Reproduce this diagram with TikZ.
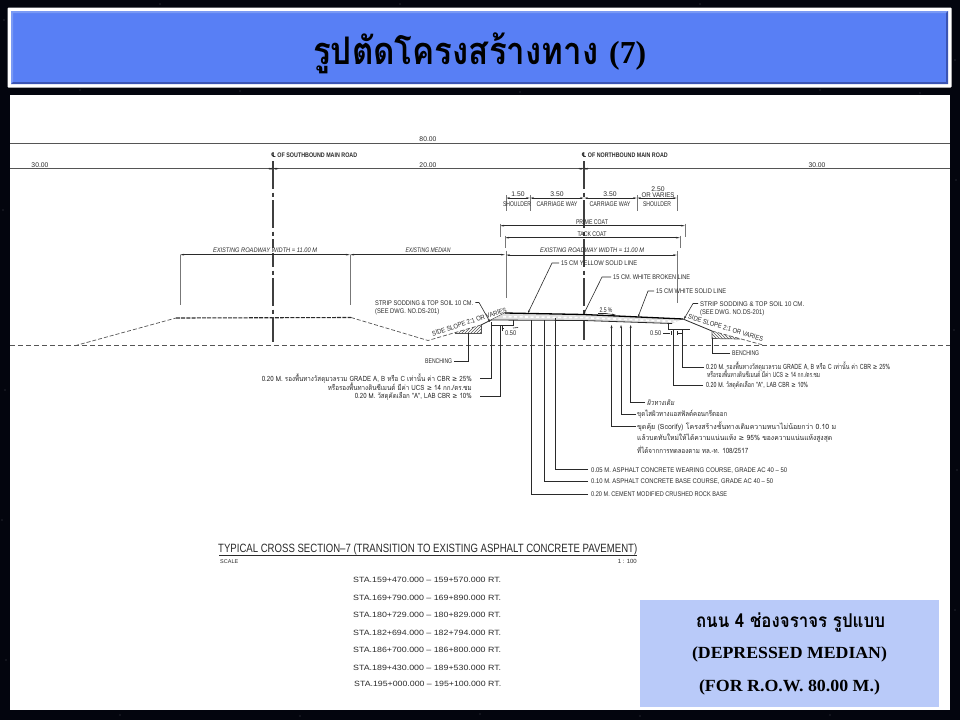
\documentclass[tikz,border=0pt]{standalone}
\usepackage{graphicx}
\usepackage{fontspec}
\setmainfont{Liberation Serif}
\setsansfont{Liberation Sans}
\newfontfamily\thaicad[Script=Thai]{Loma}
\newfontfamily\thaibold[Script=Thai]{Loma}
\newfontfamily\symb{DejaVu Sans}
\usetikzlibrary{arrows.meta,patterns}
\newcommand{\fitw}[2]{\resizebox{#1pt}{\height}{#2}}
\newcommand{\geqmark}{{\symb ≥}}
\definecolor{night}{HTML}{03050E}
\definecolor{titleblue}{HTML}{587FF5}
\definecolor{bevelhi}{HTML}{7A9AF4}
\definecolor{bevello}{HTML}{3A54B4}
\definecolor{panelblue}{HTML}{B9CAF9}
\definecolor{ink}{HTML}{2A2A2A}
\definecolor{wire}{HTML}{555555}
\tikzset{
  x=1pt,y=-1pt,
  cad/.style={inner sep=0pt,anchor=base west,text=ink,font=\sffamily\fontsize{6.8}{7}\selectfont},
  cadc/.style={cad,anchor=base},
  cade/.style={cad,anchor=base east},
  thc/.style={inner sep=0pt,anchor=base west,text=ink,font=\thaicad\fontsize{7.2}{8}\selectfont},
  the/.style={thc,anchor=base east},
  sta/.style={cad,font=\sffamily\fontsize{7.6}{8}\selectfont},
  wirel/.style={draw=wire,line width=0.7pt},
  leader/.style={draw=ink,line width=0.6pt},
  dimline/.style={draw=ink,line width=0.6pt,{Stealth[length=4pt,width=1.6pt]}-{Stealth[length=4pt,width=1.6pt]}},
  extline/.style={draw=wire!80,line width=0.7pt},
  ground/.style={draw=wire,line width=0.7pt,dash pattern=on 5pt off 3pt},
  centre/.style={draw=ink!90,line width=1.6pt,dash pattern=on 28pt off 3.5pt on 4pt off 3.5pt},
  panelt/.style={inner sep=0pt,anchor=base,text=black}
}
\begin{document}
\begin{tikzpicture}
\useasboundingbox (0,0) rectangle (960,720);
\fill[night] (0,0) rectangle (960,720);
% faint stars in the margin
\foreach \sx/\sy in {4/20,3/210,5/390,2/520,6/660,80/90,160/4,240/91,400/4,520/92,700/4,820/90,955/60,956/180,954/330,957/470,955/610,120/715,300/716,480/714,640/716,830/715,920/93}
  \fill[white,opacity=.28] (\sx,\sy) circle (0.7);
% title bar
\fill[white,rounded corners=1pt] (7.5,7.5) rectangle (951.5,87.5);
\fill[titleblue] (11,11) rectangle (948,84);
\fill[bevelhi] (11,11) -- (948,11) -- (946,13) -- (13,13) -- (13,82) -- (11,84) -- cycle;
\fill[bevello] (948,84) -- (11,84) -- (13,82) -- (946,82) -- (946,13) -- (948,11) -- cycle;
\node[inner sep=0pt,anchor=base west,text=black,font=\thaibold\bfseries\fontsize{38}{40}\selectfont] (title) at (313,64) {\fitw{285}{รูปตัดโครงสร้างทาง}};
\node[inner sep=0pt,anchor=base west,text=black,font=\rmfamily\bfseries\fontsize{32}{36}\selectfont] (titlenum) at (609,63) {\fitw{37}{(7)}};
% white drawing sheet
\fill[white] (10,95) rectangle (950,710);

% long dimension lines
\coordinate (topL) at (10,143); \coordinate (topR) at (950,143);
\coordinate (secL) at (10,168.7); \coordinate (secR) at (950,168.7);
\draw[wirel] (topL) -- (topR);
\draw[wirel] (secL) -- (secR);
\node[cadc] (d80) at (428,141) {80.00};
\node[cadc] (d30a) at (40,167) {30.00};
\node[cadc] (d20) at (428,167) {20.00};
\node[cadc] (d30b) at (817,167) {30.00};

% ground and embankment
\coordinate (gL) at (10,345.7); \coordinate (gR) at (950,345.7);
\draw[ground] (gL) -- (gR);
\coordinate (e1) at (75,345.7); \coordinate (e2) at (176,318); \coordinate (e3) at (351,317.5);
\coordinate (e4) at (428,340.5); \coordinate (e5) at (481,325);
\draw[wirel,dash pattern=on 4pt off 2pt] (e1) -- (e2);
\draw[ink,line width=1.1pt,dash pattern=on 4pt off 1.2pt] (e2) -- (e3);
\draw[wirel,dash pattern=on 4pt off 2pt] (e3) -- (e4) -- (e5);
\draw[ink,line width=0.8pt] (e5) -- (505,313);
% left bench hatch
\fill[pattern=north east lines,pattern color=wire] (455,333) -- (481,333) -- (481,325) -- cycle;
\draw[wirel] (455,333) -- (481,333) -- (481,325);

% centre lines
\coordinate (clsT) at (273,161); \coordinate (clsB) at (273,342);
\coordinate (clnT) at (583.7,161); \coordinate (clnB) at (583.7,340);
\draw[centre] (clsT) -- (clsB);
\draw[centre] (clnT) -- (clnB);
\node[cad,font=\sffamily\bfseries\fontsize{6.6}{7}\selectfont] (cls) at (271,157.5) {\fitw{86}{{\symb ℄} OF SOUTHBOUND MAIN ROAD}};
\node[cad,font=\sffamily\bfseries\fontsize{6.6}{7}\selectfont] (cln) at (581.5,157.5) {\fitw{86}{{\symb ℄} OF NORTHBOUND MAIN ROAD}};
\draw[dimline] (268,168.7) -- (273,168.7);
\draw[dimline] (273,168.7) -- (279,168.7);
\draw[dimline] (578,168.7) -- (583.7,168.7);
\draw[dimline] (583.7,168.7) -- (589,168.7);

% existing roadway (south), median
\coordinate (a1) at (180,254.7); \coordinate (a2) at (350,254.7); \coordinate (a3) at (505,254.7);
\draw[dimline] (a1) -- (a2);
\draw[dimline] (a2) -- (a3);
\draw[extline] (a1) -- (180,305);
\draw[extline] (a2) -- (350,305);
\draw[extline] (a3) ++(1,-4) -- (506,298);
\node[cadc,font=\sffamily\itshape\fontsize{6.6}{7}\selectfont,fill=white,inner xsep=2pt] (ex1) at (265,252.5) {\fitw{104}{EXISTING ROADWAY WIDTH = 11.00 M}};
\node[cadc,font=\sffamily\itshape\fontsize{6.6}{7}\selectfont,fill=white,inner xsep=2pt] (ex2) at (428,252.5) {\fitw{45}{EXISTING MEDIAN}};

% shoulder / carriage way
\coordinate (s1) at (506,198); \coordinate (s2) at (530,198); \coordinate (s3) at (584,198);
\coordinate (s4) at (637,198); \coordinate (s5) at (677,198);
\foreach \pa/\pb in {s1/s2,s2/s3,s3/s4,s4/s5} \draw[dimline] (\pa) -- (\pb);
\foreach \p in {s1,s2,s4,s5} \draw[extline] (\p) ++(0,-3) -- ++(0,16);
\node[cadc] (w1) at (518,196) {1.50};
\node[cadc] (w2) at (557,196) {3.50};
\node[cadc] (w3) at (610,196) {3.50};
\node[cadc] (w4) at (658,191) {2.50};
\node[cadc] (w5) at (658,197) {\fitw{33}{OR VARIES}};
\node[cadc] (l1) at (517,206.5) {\fitw{28}{SHOULDER}};
\node[cadc] (l2) at (557,206.5) {\fitw{41}{CARRIAGE WAY}};
\node[cadc] (l3) at (610,206.5) {\fitw{41}{CARRIAGE WAY}};
\node[cadc] (l4) at (657,206.5) {\fitw{28}{SHOULDER}};

% prime coat, tack coat, roadway
\coordinate (p1) at (500,225.7); \coordinate (p2) at (685,225.7);
\coordinate (t1) at (505,237.7); \coordinate (t2) at (680,237.7);
\coordinate (r1) at (506,255); \coordinate (r2) at (677,255);
\draw[dimline] (p1) -- (p2);
\draw[dimline] (t1) -- (t2);
\draw[dimline] (r1) -- (r2);
\draw[extline] (p1) ++(0,-2) -- (500,236.7);
\draw[extline] (p2) ++(0,-2) -- (685,236.7);
\draw[extline] (t1) ++(0,-2) -- (505,248);
\draw[extline] (t2) ++(0,-2) -- (680,248);
\draw[extline] (r2) ++(0,-4) -- (677,303);
\node[cadc] (pc) at (592,224) {\fitw{32}{PRIME COAT}};
\node[cadc] (tc) at (592,236) {\fitw{29}{TACK COAT}};
\node[cadc,font=\sffamily\itshape\fontsize{6.6}{7}\selectfont] (ex3) at (592,252.5) {\fitw{104}{EXISTING ROADWAY WIDTH = 11.00 M}};

% pavement
\coordinate (top1) at (505,313); \coordinate (top2) at (583.7,314.5); \coordinate (top3) at (683,319);
\coordinate (low1) at (491,320); \coordinate (low2) at (583.7,320.5); \coordinate (low3) at (672,323.5);
\fill[black!12] (top1) -- (top2) -- (top3) -- (low3) -- (low2) -- (low1) -- cycle;
\draw[white,line width=1.6pt,dash pattern=on 3pt off 2.5pt] (503,316.7) -- (583.7,317.7) -- (676,321.5);
\draw[black,line width=1.3pt] (top1) -- (top2) -- (top3);
\draw[ink,line width=0.8pt] (low1) -- (low2) -- (low3);
% left step
\draw[ink,line width=0.8pt] (491,325) -- (513,325) -- (513,320);
\draw[ink,line width=0.6pt] (502,326) -- (502,331) (502,328.5) -- (504,328.5);
% right step and slope
\draw[ink,line width=0.8pt] (668,324) -- (668,329.5) -- (690,329.5);
\draw[ink,line width=0.8pt] (683,319) -- (712,331);
\draw[wirel,dash pattern=on 4pt off 2pt] (712,331) -- (763,345);
\fill[pattern=north west lines,pattern color=wire] (712,331) -- (712,338.5) -- (740,339) -- cycle;
\draw[wirel] (712,331) -- (712,338.5) -- (740,339);
\node[cadc] (pct) at (606,312) {\fitw{13}{2.5 \%}};
\draw[ink,line width=0.6pt,-{Stealth[length=4pt,width=1.5pt]}] (598,313.5) -- (606,313.5) -- (616,315);

% side slope labels
\node[cadc,rotate=18] (ssl) at (470,324) {\fitw{78}{SIDE SLOPE 2:1 OR VARIES}};
\node[cadc,rotate=-17] (ssr) at (725,330) {\fitw{78}{SIDE SLOPE 2:1 OR VARIES}};

% strip sodding, left
\node[cad] (stl) at (375,305) {\fitw{98}{STRIP SODDING \& TOP SOIL 10 CM.}};
\node[cad] (stl2) at (375,313) {\fitw{64}{(SEE DWG. NO.DS-201)}};
\coordinate (stlp) at (490,322);
\draw[leader,-{Stealth[length=3pt,width=2pt]}] ([xshift=2pt,yshift=2.5pt]stl.base east) -- (479,302.5) -- (stlp);
% strip sodding, right
\node[cad] (str) at (700,306) {\fitw{104}{STRIP SODDING \& TOP SOIL 10 CM.}};
\node[cad] (str2) at (700,314) {\fitw{64}{(SEE DWG. NO.DS-201)}};
\coordinate (strp) at (684,319);
\draw[leader,-{Stealth[length=3pt,width=2pt]}] ([xshift=-2pt,yshift=2.5pt]str.base west) -- (693,303.5) -- (strp);

% road marking leaders
\node[cad] (m1) at (561,265.5) {\fitw{76}{15 CM YELLOW SOLID LINE}};
\coordinate (m1p) at (528,313);
\draw[leader,-{Stealth[length=3pt,width=2pt]}] ([xshift=-2pt,yshift=2.5pt]m1.base west) -- (552,263) -- (m1p);
\node[cad] (m2) at (613,279.5) {\fitw{77}{15 CM. WHITE BROKEN LINE}};
\coordinate (m2p) at (583.7,314);
\draw[leader,-{Stealth[length=3pt,width=2pt]}] ([xshift=-2pt,yshift=2.5pt]m2.base west) -- (602,277) -- (m2p);
\node[cad] (m3) at (656,293.5) {\fitw{70}{15 CM WHITE SOLID LINE}};
\coordinate (m3p) at (638,317);
\draw[leader,-{Stealth[length=3pt,width=2pt]}] ([xshift=-2pt,yshift=2.5pt]m3.base west) -- (648,291) -- (m3p);

% benching
\node[cad] (bl) at (425,363.5) {\fitw{27}{BENCHING}};
\coordinate (blp) at (468,333);
\draw[leader] ([xshift=2pt,yshift=2.5pt]bl.base east) -| (blp);
\node[cad] (br) at (732,355.5) {\fitw{27}{BENCHING}};
\coordinate (brp) at (712,338);
\draw[leader] ([xshift=-2pt,yshift=2.5pt]br.base west) -| (brp);

% 0.50
\node[cad] (h1) at (505,335.5) {\fitw{11}{0.50}};
\draw[leader] (513,328) -- (518,327.5);
\node[cad] (h2) at (650,335.5) {\fitw{11}{0.50}};
\draw[leader] (663,333) -- (670,333) (671,331) -- (671,335) (677,331) -- (677,335) (677,333) -- (682,333);

% left side specifications
\node[the] (q1) at (472,381) {\fitw{210}{0.20 M. รองพื้นทางวัสดุมวลรวม GRADE A, B หรือ C เท่านั้น ค่า CBR \geqmark{} 25\%}};
\node[the] (q2) at (472,390) {\fitw{144}{หรือรองพื้นทางดินซีเมนต์ มีค่า UCS \geqmark{} 14 กก./ตร.ซม}};
\node[the] (q3) at (472,398.5) {\fitw{117}{0.20 M. วัสดุคัดเลือก "A", LAB CBR \geqmark{} 10\%}};
\coordinate (q1p) at (491,322); \coordinate (q3p) at (500,325);
\draw[leader] ([xshift=8pt,yshift=2.5pt]q1.base east) -| (q1p);
\draw[leader] ([xshift=8pt,yshift=2.5pt]q3.base east) -| (q3p);

% right side specifications
\node[thc] (s1t) at (706,369.5) {\fitw{184}{0.20 M. รองพื้นทางวัสดุมวลรวม GRADE A, B หรือ C เท่านั้น ค่า CBR \geqmark{} 25\%}};
\node[thc] (s2t) at (707,377.5) {\fitw{113}{หรือรองพื้นทางดินซีเมนต์ มีค่า UCS \geqmark{} 14 กก./ตร.ซม}};
\node[thc] (s3t) at (706,387.5) {\fitw{102}{0.20 M. วัสดุคัดเลือก "A", LAB CBR \geqmark{} 10\%}};
\coordinate (s1p) at (682,329); \coordinate (s3p) at (673,329);
\draw[leader] ([xshift=-2pt,yshift=2.5pt]s1t.base west) -| (s1p);
\draw[leader] ([xshift=-3pt,yshift=2.5pt]s3t.base west) -| (s3p);

% pavement layer callouts
\node[cad] (c1) at (591,472) {\fitw{196}{0.05 M. ASPHALT CONCRETE WEARING COURSE, GRADE AC 40 -- 50}};
\node[cad] (c2) at (591,483.5) {\fitw{182}{0.10 M. ASPHALT CONCRETE BASE COURSE, GRADE AC 40 -- 50}};
\node[cad] (c3) at (591,496.5) {\fitw{136}{0.20 M. CEMENT MODIFIED CRUSHED ROCK BASE}};
\coordinate (c1p) at (555,318); \coordinate (c2p) at (544,320); \coordinate (c3p) at (531.7,320);
\draw[leader] ([xshift=-3pt,yshift=2.5pt]c1.base west) -| (c1p);
\draw[leader] ([xshift=-3pt,yshift=2.5pt]c2.base west) -| (c2p);
\draw[leader] ([xshift=-3pt,yshift=2.5pt]c3.base west) -| (c3p);

% existing-surface callouts
\node[thc,font=\thaicad\itshape\fontsize{7.2}{8}\selectfont] (f1) at (647,405) {\fitw{27}{ผิวทางเดิม}};
\node[thc] (f2) at (637,416.5) {\fitw{90}{ขุดไสผิวทางแอสฟัลต์คอนกรีตออก}};
\node[thc] (f3) at (637,429) {\fitw{199}{ขุดคุ้ย (Scorify) โครงสร้างชั้นทางเดิมความหนาไม่น้อยกว่า 0.10 ม}};
\node[thc] (f4) at (637,440.5) {\fitw{195}{แล้วบดทับใหม่ให้ได้ความแน่นแห้ง \geqmark{} 95\% ของความแน่นแห้งสูงสุด}};
\node[thc] (f5) at (637,453.5) {\fitw{111}{ที่ได้จากการทดลองตาม ทล.-ท. 108/2517}};
\coordinate (f1p) at (630.7,325); \coordinate (f2p) at (621,325); \coordinate (f3p) at (611.5,325);
\draw[leader,-{Stealth[length=3pt,width=2pt]}] ([xshift=-2pt,yshift=2.5pt]f1.base west) -| (f1p);
\draw[leader,-{Stealth[length=3pt,width=2pt]}] ([xshift=-1pt,yshift=2.5pt]f2.base west) -| (f2p);
\draw[leader,-{Stealth[length=3pt,width=2pt]}] ([xshift=-1pt,yshift=2.5pt]f3.base west) -| (f3p);

% section title
\node[inner sep=0pt,anchor=base west,text=ink,font=\sffamily\fontsize{12}{14}\selectfont] (sect) at (218,552) {\fitw{419}{TYPICAL CROSS SECTION--7 (TRANSITION TO EXISTING ASPHALT CONCRETE PAVEMENT)}};
\coordinate (sectL) at (219,555.5); \coordinate (sectR) at (637,555.5);
\draw[ink,line width=1pt] (sectL) -- (sectR);
\node[cad,font=\sffamily\fontsize{5.5}{6}\selectfont] (scl) at (220,563) {SCALE};
\node[cade,font=\sffamily\fontsize{6}{6}\selectfont] (sc2) at (637,563) {1 : 100};

\node[sta] (st1) at (353,582.5) {\fitw{148}{STA.159+470.000 -- 159+570.000 RT.}};
\node[sta] (st2) at (353,600) {\fitw{148}{STA.169+790.000 -- 169+890.000 RT.}};
\node[sta] (st3) at (353,617.5) {\fitw{148}{STA.180+729.000 -- 180+829.000 RT.}};
\node[sta] (st4) at (353,635) {\fitw{148}{STA.182+694.000 -- 182+794.000 RT.}};
\node[sta] (st5) at (353,652.5) {\fitw{148}{STA.186+700.000 -- 186+800.000 RT.}};
\node[sta] (st6) at (353,670.5) {\fitw{148}{STA.189+430.000 -- 189+530.000 RT.}};
\node[sta] (st7) at (354,686) {\fitw{147}{STA.195+000.000 -- 195+100.000 RT.}};

% info panel
\fill[panelblue] (640,600) rectangle (939,707);
\node[panelt,font=\thaibold\bfseries\fontsize{19}{22}\selectfont] (b1) at (790.5,627) {\fitw{189}{ถนน 4 ช่องจราจร รูปแบบ}};
\node[panelt,font=\rmfamily\bfseries\fontsize{17}{20}\selectfont] (b2) at (789.5,658) {\fitw{195}{(DEPRESSED MEDIAN)}};
\node[panelt,font=\rmfamily\bfseries\fontsize{17}{20}\selectfont] (b3) at (789.5,691) {\fitw{181}{(FOR R.O.W. 80.00 M.)}};
\end{tikzpicture}
\end{document}
